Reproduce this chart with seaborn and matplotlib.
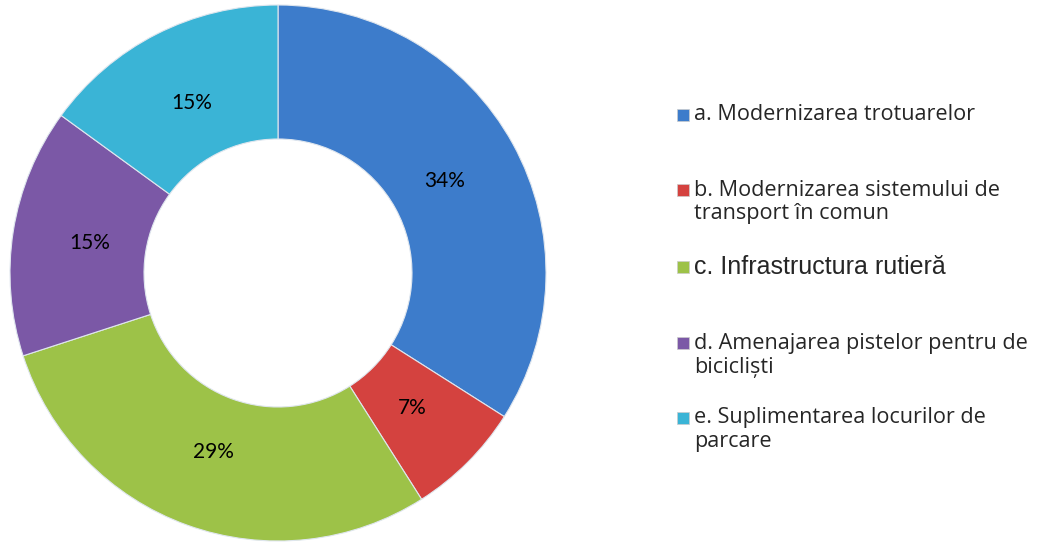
import matplotlib
matplotlib.use("Agg")
import matplotlib.pyplot as plt
from matplotlib.patches import Rectangle
import seaborn as sns

# data
categories = [
    "a. Modernizarea trotuarelor",
    "b. Modernizarea sistemului de\ntransport în comun",
    "c. Infrastructura rutieră",
    "d. Amenajarea pistelor pentru de\nbicicliști",
    "e. Suplimentarea locurilor de\nparcare",
]
values = [34, 7, 29, 15, 15]
colors = ["#3D7CCB", "#D4423F", "#9DC248", "#7B58A6", "#3AB4D6"]

sns.set_theme(style="white")
plt.rcParams["font.family"] = ["Lato", "DejaVu Sans"]

fig = plt.figure(figsize=(10.37, 5.49), dpi=100)
ax = fig.add_axes([10 / 1037, 8 / 549, 536 / 1037, 536 / 549])

wedges, texts, autotexts = ax.pie(
    values,
    colors=colors,
    startangle=90,
    counterclock=False,
    autopct="%1.0f%%",
    pctdistance=0.71,
    wedgeprops=dict(width=0.5, edgecolor="#dfe6ee", linewidth=0.8),
    textprops=dict(fontsize=15, color="black"),
)
ax.set_xlim(-1.0, 1.0)
ax.set_ylim(-1.0, 1.0)
ax.set_aspect("equal")
ax.axis("off")

# legend drawn by hand so entries keep even spacing like the original
y_first = [115, 190, 267, 343, 418]
for lab, col, y in zip(categories, colors, y_first):
    yf = 1 - y / 549
    fig.patches.append(Rectangle((677 / 1037, yf - 6 / 549), 12 / 1037, 12 / 549,
                                 transform=fig.transFigure, facecolor=col,
                                 edgecolor="#cccccc", linewidth=0.5))
    if lab.startswith("c."):
        fig.text(694 / 1037, yf, lab, fontsize=18, va="center", ha="left",
                 family=["Liberation Sans", "DejaVu Sans"])
        continue
    for i, line in enumerate(lab.split("\n")):
        fig.text(694 / 1037, yf - i * 24 / 549, line, fontsize=15.6, va="center",
                 ha="left", family=["Open Sans", "DejaVu Sans"])

fig.savefig("out.png", dpi=100)
